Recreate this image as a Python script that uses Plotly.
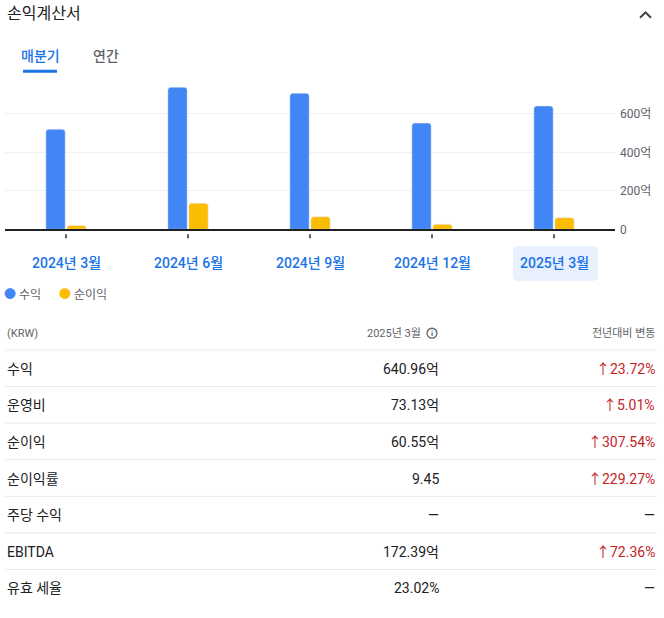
import plotly.graph_objects as go

W, H = 664, 618

# chart data (억 KRW)
quarters = ["2024년 3월", "2024년 6월", "2024년 9월", "2024년 12월", "2025년 3월"]
revenue = [520, 738, 707, 552, 641]
net_income = [20, 136, 66, 26, 61]
ytick_vals = [0, 200, 400, 600]
ytick_text = ["0", "200억", "400억", "600억"]

# table data
row_labels = ["수익", "운영비", "순이익", "순이익률", "주당 수익", "EBITDA", "유효 세율"]
row_values = ["640.96억", "73.13억", "60.55억", "9.45", "—", "172.39억", "23.02%"]
row_changes = ["23.72%", "5.01%", "307.54%", "229.27%", "—", "72.36%", "—"]

BLUE = "#4285f4"
YELLOW = "#fbbc04"
LINKBLUE = "#1a73e8"
DARK = "#202124"
GRAY = "#5f6368"
RED = "#c5221f"
FONT = "Roboto, 'Noto Sans CJK KR', sans-serif"


def px(x):
    return x / W


def py(y):
    return 1 - y / H


fig = go.Figure()
fig.add_trace(go.Bar(x=quarters, y=revenue, name="수익", marker_color=BLUE))
fig.add_trace(go.Bar(x=quarters, y=net_income, name="순이익", marker_color=YELLOW))

fig.update_layout(
    width=W, height=H,
    margin=dict(l=0, r=0, t=0, b=0),
    paper_bgcolor="white", plot_bgcolor="white",
    font=dict(family=FONT, color=DARK),
    barmode="group", bargap=0.656, bargroupgap=0.08,
    barcornerradius=3,
    showlegend=False,
    xaxis=dict(domain=[px(5), px(615)], showticklabels=False, ticks="",
               showline=True, linecolor="#202124", linewidth=1.5,
               showgrid=False, fixedrange=True),
    yaxis=dict(domain=[py(232), py(84)], range=[0, 760], side="right",
               tickvals=ytick_vals, ticktext=ytick_text,
               tickfont=dict(size=12, color=GRAY),
               showgrid=True, gridcolor="#eef0f2", zeroline=False,
               ticklabelstandoff=4),
)

shapes = []
ann = []

# header
ann.append(dict(x=px(5), y=py(14), xref="paper", yref="paper", xanchor="left",
                yanchor="middle", text="손익계산서", showarrow=False,
                font=dict(size=16, color=DARK)))
shapes.append(dict(type="path", xref="paper", yref="paper",
                   path=f"M {px(640)},{py(18)} L {px(645.5)},{py(12.5)} L {px(651)},{py(18)}",
                   line=dict(color="#3c4043", width=2)))

# tabs
ann.append(dict(x=px(40), y=py(57), xref="paper", yref="paper", xanchor="center",
                yanchor="middle", text="매분기", showarrow=False,
                font=dict(size=14, color=LINKBLUE, weight=500)))
ann.append(dict(x=px(106), y=py(57), xref="paper", yref="paper", xanchor="center",
                yanchor="middle", text="연간", showarrow=False,
                font=dict(size=14, color=GRAY, weight=500)))
shapes.append(dict(type="line", xref="paper", yref="paper",
                   x0=px(23), x1=px(57), y0=py(72), y1=py(72),
                   line=dict(color=LINKBLUE, width=3)))

# highlighted last quarter
x0, x1, y0, y1, r = 513, 598, 249, 284, 5
shapes.append(dict(type="path", xref="paper", yref="paper", fillcolor="#e8f0fe",
                   line=dict(width=0),
                   path=(f"M {px(x0 + r)},{py(y0)} L {px(x1 - r)},{py(y0)} "
                         f"Q {px(x1)},{py(y0)} {px(x1)},{py(y0 + r)} "
                         f"L {px(x1)},{py(y1 - r)} Q {px(x1)},{py(y1)} {px(x1 - r)},{py(y1)} "
                         f"L {px(x0 + r)},{py(y1)} Q {px(x0)},{py(y1)} {px(x0)},{py(y1 - r)} "
                         f"L {px(x0)},{py(y0 + r)} Q {px(x0)},{py(y0)} {px(x0 + r)},{py(y0)} Z"),
                   layer="below"))

# category tick marks and labels
for q in quarters:
    shapes.append(dict(type="line", xref="x", yref="paper", x0=q, x1=q,
                       y0=py(237), y1=py(241), line=dict(color=GRAY, width=2)))
    ann.append(dict(x=q, y=py(266), xref="x", yref="paper", xanchor="center",
                    yanchor="middle", text=q, showarrow=False,
                    font=dict(size=14, color=LINKBLUE, weight=500)))

# legend
ann.append(dict(x=px(2), y=py(298), xref="paper", yref="paper", xanchor="left",
                yanchor="middle", showarrow=False,
                text=(f"<span style='color:{BLUE}'>●</span> 수익"
                      f"&nbsp;&nbsp;&nbsp;&nbsp;&nbsp;&nbsp;<span style='color:{YELLOW}'>●</span> 순이익"),
                font=dict(size=12, color=GRAY)))

# table header
ann.append(dict(x=px(5), y=py(337), xref="paper", yref="paper", xanchor="left",
                yanchor="middle", text="(KRW)", showarrow=False,
                font=dict(size=11, color=GRAY)))
ann.append(dict(x=px(423), y=py(337), xref="paper", yref="paper", xanchor="right",
                yanchor="middle", text="2025년 3월", showarrow=False,
                font=dict(size=11, color=GRAY)))
shapes.append(dict(type="circle", xref="paper", yref="paper",
                   x0=px(427), x1=px(437), y0=py(332), y1=py(342),
                   line=dict(color=GRAY, width=1.3)))
ann.append(dict(x=px(432), y=py(337.5), xref="paper", yref="paper", xanchor="center",
                yanchor="middle", text="<b>i</b>", showarrow=False,
                font=dict(size=8, color=GRAY)))
ann.append(dict(x=px(657), y=py(337), xref="paper", yref="paper", xanchor="right",
                yanchor="middle", text="전년대비 변동", showarrow=False,
                font=dict(size=11, color=GRAY)))

# table rows
for i, (lab, val, chg) in enumerate(zip(row_labels, row_values, row_changes)):
    top = 354 + 37 * i
    shapes.append(dict(type="line", xref="paper", yref="paper",
                       x0=px(5), x1=px(657), y0=py(top), y1=py(top),
                       line=dict(color="#e8eaed", width=1)))
    yc = py(top + 19)
    ann.append(dict(x=px(5), y=yc, xref="paper", yref="paper", xanchor="left",
                    yanchor="middle", text=lab, showarrow=False,
                    font=dict(size=14, color=DARK)))
    ann.append(dict(x=px(441), y=yc, xref="paper", yref="paper", xanchor="right",
                    yanchor="middle", text=val, showarrow=False,
                    font=dict(size=14, color=DARK)))
    if chg == "—":
        ctext, ccol = "—", DARK
    else:
        ctext, ccol = "↑" + chg, RED
    ann.append(dict(x=px(657), y=yc, xref="paper", yref="paper", xanchor="right",
                    yanchor="middle", text=ctext, showarrow=False,
                    font=dict(size=14, color=ccol)))

fig.update_layout(shapes=shapes, annotations=ann)
fig.write_html("out.html", config={"displayModeBar": False},
               post_script="document.body.style.margin='0';document.body.style.overflow='hidden';")
